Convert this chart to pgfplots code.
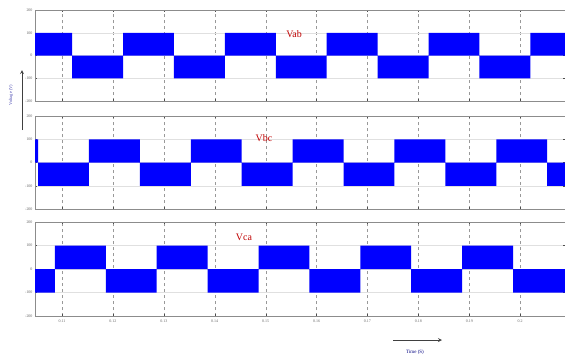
\documentclass[border=0pt]{standalone}
\usepackage{pgfplots}
\pgfplotsset{compat=1.18}
\usepackage{fontspec}
\setmainfont{Liberation Serif}
\pgfplotsset{panel/.style={
  scale only axis, width=530bp,
  xmin=0.1047, xmax=0.2088, ymin=-200, ymax=200,
  ytick={-200,-100,0,100,200},
  xtick={0.11,0.12,0.13,0.14,0.15,0.16,0.17,0.18,0.19,0.2},
  scaled ticks=false,
  /pgf/number format/assume math mode=true,
  /pgf/number format/fixed,
  /pgf/number format/precision=2,
  tick label style={font=\fontsize{4}{4}\selectfont, text=black!60},
  axis line style={black!45},
  major tick length=2.5pt,
  tick style={black!70},
  xmajorgrids, ymajorgrids,
  x grid style={black!40, dashed, very thin},
  y grid style={black!12, thin},
  yticklabel style={xshift=1pt},
}}
\begin{document}
\begin{tikzpicture}
\useasboundingbox (0,0) rectangle (565bp,-358bp);
\begin{axis}[panel, at={(35bp,-101bp)}, anchor=south west, height=91bp, xticklabels={}]
\addplot[fill=blue, draw=none, const plot] coordinates {
(0.1047,100) (0.112,-100) (0.122,100) (0.132,-100) (0.142,100) (0.152,-100)
(0.162,100) (0.172,-100) (0.182,100) (0.192,-100) (0.202,100) (0.2088,100)} \closedcycle;
\end{axis}
\begin{axis}[panel, at={(35bp,-209bp)}, anchor=south west, height=93bp, xticklabels={}]
\addplot[fill=blue, draw=none, const plot] coordinates {
(0.1047,100) (0.1053,-100) (0.1153,100) (0.1253,-100) (0.1353,100) (0.1453,-100)
(0.1553,100) (0.1653,-100) (0.1753,100) (0.1853,-100) (0.1953,100) (0.2053,-100) (0.2088,-100)} \closedcycle;
\end{axis}
\begin{axis}[panel, at={(35bp,-316bp)}, anchor=south west, height=94bp]
\addplot[fill=blue, draw=none, const plot] coordinates {
(0.1047,-100) (0.1086,100) (0.1186,-100) (0.1286,100) (0.1386,-100) (0.1486,100)
(0.1586,-100) (0.1686,100) (0.1786,-100) (0.1886,100) (0.1986,-100) (0.2088,-100)} \closedcycle;
\end{axis}
\node[text=red!75!black, font=\fontsize{10}{10}\selectfont] at (294bp,-34bp) {Vab};
\node[text=red!75!black, font=\fontsize{10}{10}\selectfont] at (264bp,-138bp) {Vbc};
\node[text=red!75!black, font=\fontsize{10}{10}\selectfont] at (244bp,-237bp) {Vca};
\node[rotate=90, text=blue!40!gray, font=\fontsize{4.5}{5}\selectfont] at (11bp,-95bp) {Voltage (V)};
\draw[-stealth, line width=0.8pt, black!75] (22bp,-130bp) -- (22bp,-70bp);
\draw[-stealth, line width=0.8pt, black!75] (393bp,-340bp) -- (442bp,-340bp);
\node[text=blue!50!black, font=\fontsize{5}{5}\selectfont] at (415bp,-352bp) {Time (S)};
\end{tikzpicture}
\end{document}
